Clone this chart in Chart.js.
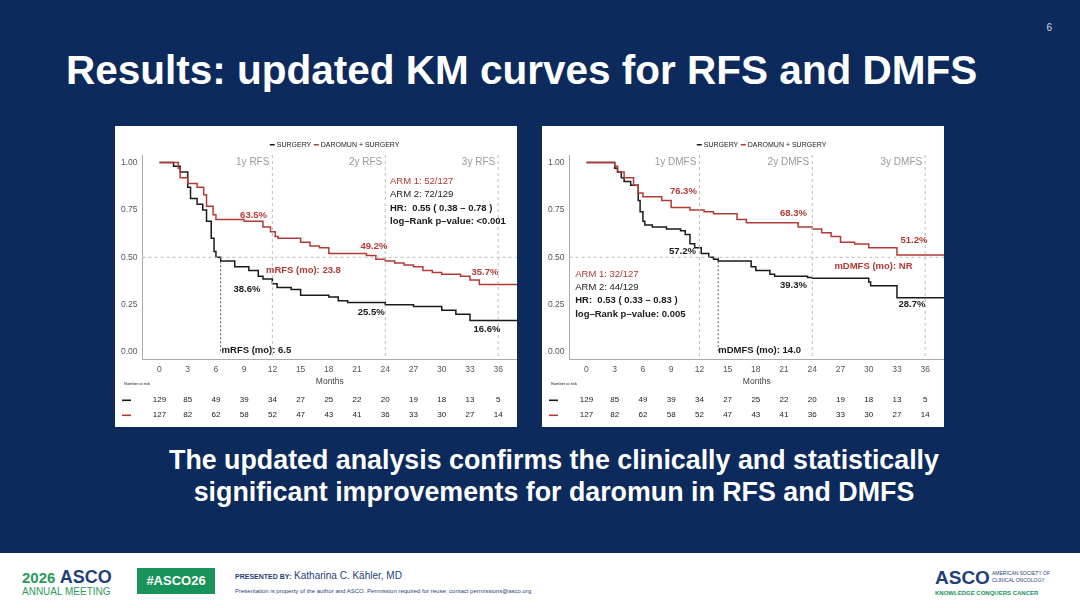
<!DOCTYPE html>
<html>
<head>
<meta charset="utf-8">
<script src="https://cdn.jsdelivr.net/npm/chart.js@4"></script>
<style>
  html, body { margin: 0; padding: 0; }
  body { width: 1080px; height: 608px; background: #0c2a5c; position: relative; overflow: hidden; font-family: 'Liberation Sans', Arial, sans-serif; }
  .title { position: absolute; left: 66px; top: 47px; color: #fff; font-weight: bold; font-size: 40.5px; }
  .page { position: absolute; right: 28px; top: 22px; color: #cfd6e4; font-size: 10px; }
  .box { position: absolute; top: 126px; width: 402px; height: 301px; background: #fff; }
  .box canvas { display: block; }
  .msg { position: absolute; left: 0; width: 1108px; top: 444px; text-align: center; color: #fff; font-weight: bold; font-size: 26.8px; line-height: 32px; }
  .foot { position: absolute; left: 0; top: 553px; width: 1080px; height: 55px; background: #fff; }
  .foot div { position: absolute; }
</style>
</head>
<body>
<div class="page">6</div>
<div class="title">Results: updated KM curves for RFS and DMFS</div>
<div class="box" style="left:115px"><canvas id="rfs" width="402" height="301"></canvas></div>
<div class="box" style="left:542px"><canvas id="dmfs" width="402" height="301"></canvas></div>
<div class="msg">The updated analysis confirms the clinically and statistically<br>significant improvements for daromun in RFS and DMFS</div>
<div class="foot">
  <div style="left:22px;top:14px;font-size:18px;font-weight:bold;color:#1f3f7a"><span style="color:#2c9a5a;font-size:15px">2026</span> ASCO</div>
  <div style="left:22px;top:33px;font-size:10px;color:#2c9a5a">ANNUAL MEETING</div>
  <div style="left:137px;top:15px;width:78px;height:26px;background:#17935a;color:#fff;font-weight:bold;font-size:13px;text-align:center;line-height:26px">#ASCO26</div>
  <div style="left:235px;top:17px;font-size:10px;color:#1f3f7a"><span style="font-size:7px;font-weight:bold">PRESENTED BY:</span> Katharina C. Kähler, MD</div>
  <div style="left:235px;top:35px;font-size:6px;color:#1f3f7a">Presentation is property of the author and ASCO. Permission required for reuse; contact permissions@asco.org</div>
  <div style="left:935px;top:14px;font-size:19px;font-weight:bold;color:#1f3f7a">ASCO</div>
  <div style="left:992px;top:17px;font-size:5px;color:#1f3f7a;line-height:7px">AMERICAN SOCIETY OF<br>CLINICAL ONCOLOGY</div>
  <div style="left:935px;top:37px;font-size:6px;font-weight:bold;color:#17935a">KNOWLEDGE CONQUERS CANCER</div>
</div>
<script>
// ── Data ──────────────────────────────────────────────────────────
const months = [0, 3, 6, 9, 12, 15, 18, 21, 24, 27, 30, 33, 36];
const riskSurgery = [129, 85, 49, 39, 34, 27, 25, 22, 20, 19, 18, 13, 5];
const riskDaromun = [127, 82, 62, 58, 52, 47, 43, 41, 36, 33, 30, 27, 14];

// [month, survival] steps
const rfsSurgery = [[0,1],[1.5,1],[2.2,0.98],[3,0.95],[3.3,0.87],[4,0.81],[4.6,0.78],[5,0.75],[5.5,0.69],[5.8,0.6],[6,0.53],[6.5,0.5],[8,0.48],[9.5,0.45],[10.5,0.43],[11,0.4],[12,0.386],[12.5,0.36],[14,0.34],[15,0.33],[18,0.3],[19,0.29],[20,0.27],[24,0.262],[27,0.25],[30,0.24],[31.5,0.22],[33,0.2],[34.8,0.166],[38,0.166]];
const rfsDaromun = [[0,1],[2,1],[2.2,0.97],[3,0.92],[4,0.89],[4.7,0.87],[5,0.83],[5.7,0.77],[6,0.724],[9,0.7],[11,0.69],[11.8,0.66],[12.3,0.635],[12.6,0.61],[15,0.6],[16,0.58],[17,0.56],[18,0.55],[22,0.52],[23,0.51],[24,0.49],[25,0.48],[26,0.47],[27,0.46],[28,0.45],[29,0.43],[30,0.42],[32,0.41],[33,0.4],[34,0.38],[36,0.357],[38,0.357]];
const dmfsSurgery = [[0,1],[3,1],[3.3,0.97],[3.7,0.95],[4,0.92],[4.7,0.9],[5.5,0.88],[5.7,0.8],[6,0.74],[6.2,0.69],[7,0.67],[8.5,0.66],[10,0.65],[10.5,0.64],[11,0.62],[11.5,0.572],[12.2,0.55],[13,0.52],[13.5,0.5],[14,0.49],[17.5,0.48],[18,0.45],[19.5,0.43],[20,0.41],[23.5,0.4],[24,0.393],[30,0.39],[30.2,0.37],[33,0.35],[34.8,0.287],[38,0.287]];
const dmfsDaromun = [[0,1],[3,1],[3.3,0.98],[4,0.95],[5,0.92],[5.5,0.88],[6,0.84],[8,0.82],[9,0.8],[11,0.763],[12.5,0.75],[13.5,0.74],[16,0.73],[17,0.7],[22.5,0.683],[24,0.66],[25,0.65],[26,0.63],[27,0.61],[28.5,0.58],[30,0.57],[33,0.55],[35.8,0.512],[38,0.512]];

const BLACK = '#1a1a1a';
const RED = '#b23a34';

// ── Overlay plugin: legend, guides, labels, risk table ───────────
function overlay(cfg) {
  return {
    id: 'overlay',
    afterDraw(chart) {
      const { ctx, chartArea: a, scales: { x, y } } = chart;
      ctx.save();
      // legend
      ctx.font = '7px "Liberation Sans", Arial';
      ctx.textBaseline = 'middle';
      const cx = (a.left + a.right) / 2 - 60;
      ctx.fillStyle = BLACK; ctx.fillRect(cx, 18, 5, 1.5);
      ctx.fillText('SURGERY', cx + 7, 19);
      ctx.fillStyle = RED; ctx.fillRect(cx + 44, 18, 5, 1.5);
      ctx.fillStyle = BLACK; ctx.fillText('DAROMUN + SURGERY', cx + 51, 19);
      // dashed guides
      ctx.strokeStyle = '#bdbdbd'; ctx.lineWidth = 1; ctx.setLineDash([3, 3]);
      [12, 24, 36].forEach(m => { ctx.beginPath(); ctx.moveTo(x.getPixelForValue(m), a.top); ctx.lineTo(x.getPixelForValue(m), a.bottom); ctx.stroke(); });
      ctx.beginPath(); ctx.moveTo(a.left, y.getPixelForValue(0.5)); ctx.lineTo(a.right, y.getPixelForValue(0.5)); ctx.stroke();
      ctx.strokeStyle = '#555'; ctx.setLineDash([2, 2]);
      ctx.beginPath(); ctx.moveTo(x.getPixelForValue(cfg.median), y.getPixelForValue(0.5)); ctx.lineTo(x.getPixelForValue(cfg.median), y.getPixelForValue(0)); ctx.stroke();
      ctx.setLineDash([]);
      // year labels
      ctx.font = '10px "Liberation Sans", Arial'; ctx.fillStyle = '#999'; ctx.textAlign = 'right';
      cfg.years.forEach((t, i) => ctx.fillText(t, x.getPixelForValue(12 * (i + 1)) - 3, y.getPixelForValue(1)));
      // text labels
      cfg.labels.forEach(l => {
        ctx.font = (l.bold ? 'bold ' : '') + '9.5px "Liberation Sans", Arial';
        ctx.fillStyle = l.c; ctx.textAlign = l.align || 'center';
        ctx.fillText(l.t, x.getPixelForValue(l.x), y.getPixelForValue(l.y));
      });
      // risk table
      ctx.font = '4px "Liberation Sans", Arial'; ctx.fillStyle = BLACK; ctx.textAlign = 'left';
      ctx.fillText('Number at risk', 9, 258);
      ctx.font = '8px "Liberation Sans", Arial'; ctx.textAlign = 'center';
      [[riskSurgery, BLACK, 274], [riskDaromun, RED, 289]].forEach(([row, col, py]) => {
        ctx.fillStyle = col; ctx.fillRect(7, py - 0.5, 9, 1.6);
        ctx.fillStyle = BLACK;
        row.forEach((v, i) => ctx.fillText(v, x.getPixelForValue(months[i]), py));
      });
      ctx.restore();
    }
  };
}

function renderKM(id, surg, daro, cfg) {
  const toPts = arr => arr.map(([m, s]) => ({ x: m, y: s }));
  new Chart(document.getElementById(id), {
    type: 'line',
    data: {
      datasets: [
        { data: toPts(daro), borderColor: RED, borderWidth: 1.5, stepped: 'after', pointRadius: 0 },
        { data: toPts(surg), borderColor: BLACK, borderWidth: 1.5, stepped: 'after', pointRadius: 0 },
      ],
    },
    options: {
      responsive: false,
      animation: false,
      layout: { padding: { top: 29, right: 0, bottom: 40, left: 4 } },
      plugins: { legend: { display: false }, tooltip: { enabled: false } },
      scales: {
        x: {
          type: 'linear', min: -1.8, max: 38,
          afterBuildTicks: s => { s.ticks = months.map(v => ({ value: v })); },
          grid: { display: false, drawTicks: true, tickLength: 3 },
          border: { color: '#aaa' },
          ticks: { color: '#555', font: { size: 8.5, family: 'Liberation Sans' }, padding: 2, maxRotation: 0 },
          title: { display: true, text: 'Months', color: '#444', font: { size: 8.5, family: 'Liberation Sans' }, padding: 0 },
        },
        y: {
          min: -0.04, max: 1.04,
          afterBuildTicks: s => { s.ticks = [0, 0.25, 0.5, 0.75, 1].map(v => ({ value: v })); },
          grid: { display: false, tickLength: 3 },
          border: { color: '#aaa' },
          ticks: { color: '#555', font: { size: 8.5, family: 'Liberation Sans' }, padding: 2, callback: v => v.toFixed(2) },
        },
      },
    },
    plugins: [overlay(cfg)],
  });
}

renderKM('rfs', rfsSurgery, rfsDaromun, {
  median: 6.5,
  years: ['1y RFS', '2y RFS', '3y RFS'],
  labels: [
    { t: '63.5%', x: 10, y: 0.72, c: RED, bold: true },
    { t: '49.2%', x: 22.8, y: 0.56, c: RED, bold: true },
    { t: '35.7%', x: 34.6, y: 0.42, c: RED, bold: true },
    { t: '38.6%', x: 9.3, y: 0.33, c: BLACK, bold: true },
    { t: '25.5%', x: 22.5, y: 0.21, c: BLACK, bold: true },
    { t: '16.6%', x: 34.8, y: 0.12, c: BLACK, bold: true },
    { t: 'mRFS (mo): 23.8', x: 15.3, y: 0.43, c: RED, bold: true },
    { t: 'mRFS (mo): 6.5', x: 6.6, y: 0.01, c: BLACK, bold: true, align: 'left' },
    { t: 'ARM 1: 52/127', x: 24.5, y: 0.90, c: RED, align: 'left' },
    { t: 'ARM 2: 72/129', x: 24.5, y: 0.83, c: BLACK, align: 'left' },
    { t: 'HR:  0.55 ( 0.38 – 0.78 )', x: 24.5, y: 0.76, c: BLACK, bold: true, align: 'left' },
    { t: 'log–Rank p–value: <0.001', x: 24.5, y: 0.69, c: BLACK, bold: true, align: 'left' },
  ],
});

renderKM('dmfs', dmfsSurgery, dmfsDaromun, {
  median: 14,
  years: ['1y DMFS', '2y DMFS', '3y DMFS'],
  labels: [
    { t: '76.3%', x: 10.3, y: 0.85, c: RED, bold: true },
    { t: '68.3%', x: 22, y: 0.73, c: RED, bold: true },
    { t: '51.2%', x: 34.8, y: 0.59, c: RED, bold: true },
    { t: '57.2%', x: 10.2, y: 0.53, c: BLACK, bold: true },
    { t: '39.3%', x: 22, y: 0.35, c: BLACK, bold: true },
    { t: '28.7%', x: 34.6, y: 0.25, c: BLACK, bold: true },
    { t: 'mDMFS (mo): NR', x: 30.5, y: 0.45, c: RED, bold: true },
    { t: 'mDMFS (mo): 14.0', x: 14, y: 0.01, c: BLACK, bold: true, align: 'left' },
    { t: 'ARM 1: 32/127', x: -1.2, y: 0.41, c: RED, align: 'left' },
    { t: 'ARM 2: 44/129', x: -1.2, y: 0.34, c: BLACK, align: 'left' },
    { t: 'HR:  0.53 ( 0.33 – 0.83 )', x: -1.2, y: 0.27, c: BLACK, bold: true, align: 'left' },
    { t: 'log–Rank p–value: 0.005', x: -1.2, y: 0.20, c: BLACK, bold: true, align: 'left' },
  ],
});
</script>
</body>
</html>
